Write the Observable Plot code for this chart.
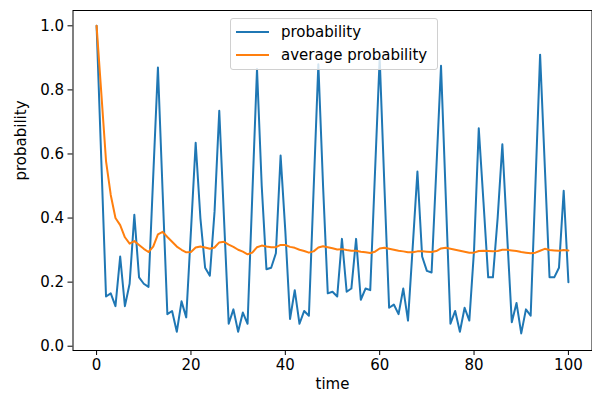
<!DOCTYPE html>
<html>
<head>
<meta charset="utf-8">
<script src="https://cdn.jsdelivr.net/npm/d3@7"></script>
<script src="https://cdn.jsdelivr.net/npm/@observablehq/plot@0.6"></script>
<style>
  html, body { margin: 0; padding: 0; background: #fff; }
  #wrap { position: relative; width: 592px; height: 399px; font-family: "DejaVu Sans", sans-serif; }
  #legend {
    position: absolute; left: 230px; top: 18px; width: 206px; height: 50px;
    background: rgba(255,255,255,0.8); border: 1px solid #d0d0d0; border-radius: 3px;
    font-size: 15px; color: #000;
  }
  .row { position: absolute; left: 5px; height: 20px; display: flex; align-items: center; white-space: nowrap; }
  .row svg { margin-right: 12px; }
</style>
</head>
<body>
<div id="wrap"><div id="legend"></div></div>
<script>
const seriesNames = ["probability", "average probability"];
const seriesColors = ["#1f77b4", "#ff7f0e"];
const xTicks = [0, 20, 40, 60, 80, 100];
const yTicks = [0.0, 0.2, 0.4, 0.6, 0.8, 1.0];

const probability = [
  1.0, 0.58, 0.155, 0.165, 0.125, 0.28, 0.125, 0.195, 0.41, 0.215,
  0.195, 0.185, 0.53, 0.87, 0.48, 0.10, 0.11, 0.045, 0.14, 0.09,
  0.36, 0.635, 0.40, 0.245, 0.22, 0.42, 0.735, 0.40, 0.07, 0.115,
  0.045, 0.105, 0.07, 0.47, 0.865, 0.50, 0.24, 0.245, 0.29, 0.595,
  0.36, 0.085, 0.175, 0.07, 0.11, 0.095, 0.49, 0.88, 0.50, 0.165,
  0.17, 0.155, 0.335, 0.17, 0.18, 0.335, 0.145, 0.18, 0.175, 0.54,
  0.90, 0.50, 0.12, 0.13, 0.10, 0.18, 0.08, 0.31, 0.545, 0.28,
  0.235, 0.23, 0.55, 0.875, 0.47, 0.07, 0.11, 0.045, 0.12, 0.08,
  0.30, 0.68, 0.45, 0.215, 0.215, 0.40, 0.63, 0.35, 0.075, 0.135,
  0.04, 0.115, 0.095, 0.50, 0.91, 0.56, 0.215, 0.215, 0.245, 0.485,
  0.20
];

const averageProbability = [
  1.0, 0.79, 0.578, 0.472, 0.40, 0.378, 0.34, 0.32, 0.328, 0.316,
  0.304, 0.294, 0.311, 0.349, 0.357, 0.341, 0.326, 0.311, 0.301, 0.293,
  0.294, 0.308, 0.311, 0.308, 0.304, 0.308, 0.324, 0.326, 0.317, 0.310,
  0.301, 0.295, 0.287, 0.292, 0.309, 0.314, 0.311, 0.309, 0.309, 0.316,
  0.316, 0.310, 0.307, 0.301, 0.297, 0.292, 0.296, 0.308, 0.312, 0.309,
  0.306, 0.302, 0.303, 0.300, 0.298, 0.298, 0.295, 0.293, 0.291, 0.295,
  0.305, 0.307, 0.304, 0.301, 0.298, 0.296, 0.293, 0.293, 0.296, 0.296,
  0.295, 0.294, 0.297, 0.305, 0.307, 0.304, 0.301, 0.298, 0.295, 0.292,
  0.292, 0.297, 0.298, 0.297, 0.296, 0.297, 0.301, 0.301, 0.299, 0.297,
  0.294, 0.292, 0.290, 0.292, 0.298, 0.304, 0.300, 0.299, 0.298, 0.300,
  0.299
];

const time = probability.map((_, i) => i);
const rowsProb = time.map((t, i) => ({t, v: probability[i], s: seriesNames[0]}));
const rowsAvg = time.map((t, i) => ({t, v: averageProbability[i], s: seriesNames[1]}));

const chart = Plot.plot({
  width: 592,
  height: 399,
  marginLeft: 72.5,
  marginRight: 0.5,
  marginTop: 10,
  marginBottom: 49,
  style: {fontFamily: "DejaVu Sans", fontSize: "15px", color: "#000", background: "transparent"},
  x: {domain: [-5, 105], ticks: xTicks, label: null},
  y: {domain: [-0.0134, 1.0478], ticks: yTicks, label: null, tickFormat: d3.format(".1f")},
  marks: [
    Plot.axisX({ticks: xTicks, tickSize: 5, tickPadding: 4, label: null, fontSize: 15}),
    Plot.axisY({ticks: yTicks, tickSize: 5, tickPadding: 4, label: null, tickFormat: d3.format(".1f"), fontSize: 15}),
    Plot.line(rowsProb, {x: "t", y: "v", stroke: seriesColors[0], strokeWidth: 2, strokeLinejoin: "round"}),
    Plot.line(rowsAvg, {x: "t", y: "v", stroke: seriesColors[1], strokeWidth: 2, strokeLinejoin: "round"}),
    Plot.frame({stroke: "#000", strokeWidth: 1}),
    Plot.text(["time"], {frameAnchor: "bottom", dy: 38, fontSize: 15, fill: "#000"}),
    Plot.text(["probability"], {frameAnchor: "left", dx: -52, rotate: -90, fontSize: 15, fill: "#000"})
  ]
});
document.getElementById("wrap").prepend(chart);

const legend = document.getElementById("legend");
seriesNames.forEach((name, i) => {
  const row = document.createElement("div");
  row.className = "row";
  row.style.top = (3 + i * 23) + "px";
  row.innerHTML = `<svg width="33" height="4"><line x1="0" x2="33" y1="2" y2="2" stroke="${seriesColors[i]}" stroke-width="2"/></svg><span>${name}</span>`;
  legend.appendChild(row);
});
</script>
</body>
</html>
